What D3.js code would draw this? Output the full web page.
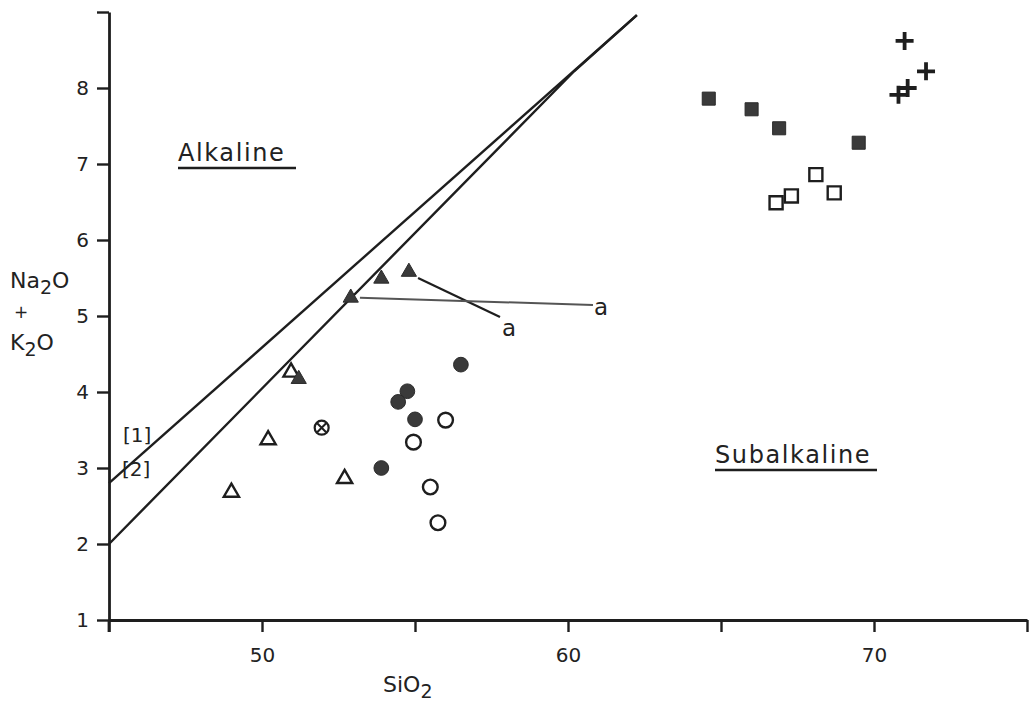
<!DOCTYPE html>
<html>
<head>
<meta charset="utf-8">
<script src="https://cdn.jsdelivr.net/npm/d3@7"></script>
<style>
  body { margin: 0; background: #fff; }
  text { font-family: "DejaVu Sans", sans-serif; fill: #222; }
</style>
</head>
<body>
<div id="chart"></div>
<script>
// data (SiO2, Na2O + K2O)
var filledSquares = [[64.6, 7.86], [66.0, 7.72], [66.9, 7.47], [69.5, 7.28]];
var openSquares = [[68.1, 6.86], [67.3, 6.58], [66.8, 6.49], [68.7, 6.62]];
var crosses = [[71.0, 8.62], [71.7, 8.22], [71.1, 8.0], [70.8, 7.91]];
var filledTriangles = [[53.9, 5.49], [54.8, 5.58], [52.9, 5.24], [51.2, 4.17]];
var openTriangles = [[50.95, 4.26], [50.2, 3.37], [49.0, 2.68], [52.7, 2.86]];
var filledCircles = [[56.5, 4.36], [54.75, 4.01], [54.45, 3.87], [55.0, 3.64], [53.9, 3.0]];
var openCircles = [[56.0, 3.63], [54.95, 3.34], [55.5, 2.75], [55.75, 2.28]];
var crossedCircles = [[51.95, 3.53]];

// dividing lines [1] and [2]
var line1 = [[45, 2.8], [62.25, 8.96]];
var line2 = [[45, 2.0], [60.2, 8.22], [62.25, 8.96]];

var xTicks = [45, 50, 55, 60, 65, 70, 75];
var xTickLabels = { 50: "50", 60: "60", 70: "70" };
var yTicks = [1, 2, 3, 4, 5, 6, 7, 8, 9];

var width = 1029, height = 704;
var margin = { top: 12, right: 2, bottom: 84, left: 109 };

var svg = d3.select("#chart").append("svg")
  .attr("width", width)
  .attr("height", height);

var x = d3.scaleLinear().domain([45, 75]).range([margin.left, width - margin.right]);
var y = d3.scaleLinear().domain([1, 9]).range([height - margin.bottom, margin.top]);

var ink = "#1e1e1e";

// axes
var xAxis = d3.axisBottom(x).tickValues(xTicks).tickSize(12).tickSizeOuter(0)
  .tickFormat(function (d) { return xTickLabels[d] || ""; });
var yAxis = d3.axisLeft(y).tickValues(yTicks).tickSize(12).tickSizeOuter(0)
  .tickFormat(function (d) { return d < 9 ? d : ""; });

var gx = svg.append("g").attr("transform", "translate(0," + y(1) + ")").call(xAxis);
var gy = svg.append("g").attr("transform", "translate(" + x(45) + ",0)").call(yAxis);

[gx, gy].forEach(function (g) {
  g.select(".domain").attr("stroke", ink).attr("stroke-width", 2.8);
  g.selectAll(".tick line").attr("stroke", ink).attr("stroke-width", 2.4);
  g.selectAll(".tick text").attr("font-size", 20).attr("fill", "#222")
    .style("font-family", "DejaVu Sans, sans-serif");
});
gx.selectAll(".tick text").attr("dy", "1.35em");
gy.selectAll(".tick text").attr("dx", "-0.25em");
// y axis runs a little below the x axis
gy.append("line").attr("x1", 0).attr("x2", 0).attr("y1", y(1)).attr("y2", y(1) + 12)
  .attr("stroke", ink).attr("stroke-width", 2.8);

// axis titles
var xt = svg.append("text").attr("x", 383).attr("y", 692).attr("font-size", 22);
xt.append("tspan").text("SiO");
xt.append("tspan").attr("font-size", 19).attr("dy", 6).text("2");

var yt1 = svg.append("text").attr("x", 10).attr("y", 288).attr("font-size", 22);
yt1.append("tspan").text("Na");
yt1.append("tspan").attr("font-size", 19).attr("dy", 6).text("2");
yt1.append("tspan").attr("dy", -6).text("O");
svg.append("text").attr("x", 14).attr("y", 318).attr("font-size", 17).text("+");
var yt2 = svg.append("text").attr("x", 10).attr("y", 350).attr("font-size", 22);
yt2.append("tspan").text("K");
yt2.append("tspan").attr("font-size", 19).attr("dy", 6).text("2");
yt2.append("tspan").attr("dy", -6).text("O");

// boundary lines
var lineGen = d3.line().x(function (d) { return x(d[0]); }).y(function (d) { return y(d[1]); });
[line1, line2].forEach(function (l) {
  svg.append("path").datum(l).attr("d", lineGen)
    .attr("fill", "none").attr("stroke", ink).attr("stroke-width", 2.4);
});
svg.append("text").attr("x", 123).attr("y", 442).attr("font-size", 20).text("[1]");
svg.append("text").attr("x", 122).attr("y", 476).attr("font-size", 20).text("[2]");

// field labels
function fieldLabel(tx, ty, str, w) {
  svg.append("text").attr("x", tx).attr("y", ty).attr("font-size", 24)
    .attr("letter-spacing", 1.6).text(str);
  svg.append("line").attr("x1", tx).attr("x2", tx + w).attr("y1", ty + 7).attr("y2", ty + 7)
    .attr("stroke", ink).attr("stroke-width", 2.4);
}
fieldLabel(178, 161, "Alkaline", 118);
fieldLabel(715, 463, "Subalkaline", 162);

// leader lines for "a"
svg.append("line").attr("x1", x(55.1)).attr("y1", y(5.5)).attr("x2", 500).attr("y2", 317)
  .attr("stroke", ink).attr("stroke-width", 2.2);
svg.append("line").attr("x1", x(53.2)).attr("y1", y(5.24)).attr("x2", 593).attr("y2", 305)
  .attr("stroke", "#555").attr("stroke-width", 2);
svg.append("text").attr("x", 502).attr("y", 336).attr("font-size", 23).text("a");
svg.append("text").attr("x", 594).attr("y", 315).attr("font-size", 23).text("a");

// markers
var fillDark = "#3a3a3a";
var sym = {
  square: d3.symbol().type(d3.symbolSquare).size(170),
  triangle: d3.symbol().type(d3.symbolTriangle).size(100),
  circle: d3.symbol().type(d3.symbolCircle).size(170)
};
function drawSymbols(data, gen, filled, cls) {
  svg.selectAll("." + cls).data(data).enter().append("path")
    .attr("class", cls)
    .attr("d", gen)
    .attr("transform", function (d) { return "translate(" + x(d[0]) + "," + y(d[1]) + ")"; })
    .attr("fill", filled ? fillDark : "#fff")
    .attr("stroke", filled ? "#2a2a2a" : ink)
    .attr("stroke-width", filled ? 1 : 2.4);
}
drawSymbols(openTriangles, sym.triangle, false, "otri");
drawSymbols(filledTriangles, sym.triangle, true, "ftri");
drawSymbols(openCircles, sym.circle, false, "ocir");
drawSymbols(filledCircles, sym.circle, true, "fcir");
drawSymbols(openSquares, sym.square, false, "osq");
drawSymbols(filledSquares, sym.square, true, "fsq");

// crossed circle
var cc = svg.selectAll(".xcir").data(crossedCircles).enter().append("g")
  .attr("transform", function (d) { return "translate(" + x(d[0]) + "," + y(d[1]) + ")"; });
cc.append("circle").attr("r", 7).attr("fill", "#fff").attr("stroke", ink).attr("stroke-width", 2.2);
cc.append("path").attr("d", "M-4.5,-4.5L4.5,4.5M-4.5,4.5L4.5,-4.5").attr("stroke", ink).attr("stroke-width", 2);

// plus signs
svg.selectAll(".plus").data(crosses).enter().append("path")
  .attr("d", "M-9,0H9M0,-9V9")
  .attr("transform", function (d) { return "translate(" + x(d[0]) + "," + y(d[1]) + ")"; })
  .attr("stroke", ink).attr("stroke-width", 3.8);
</script>
</body>
</html>
